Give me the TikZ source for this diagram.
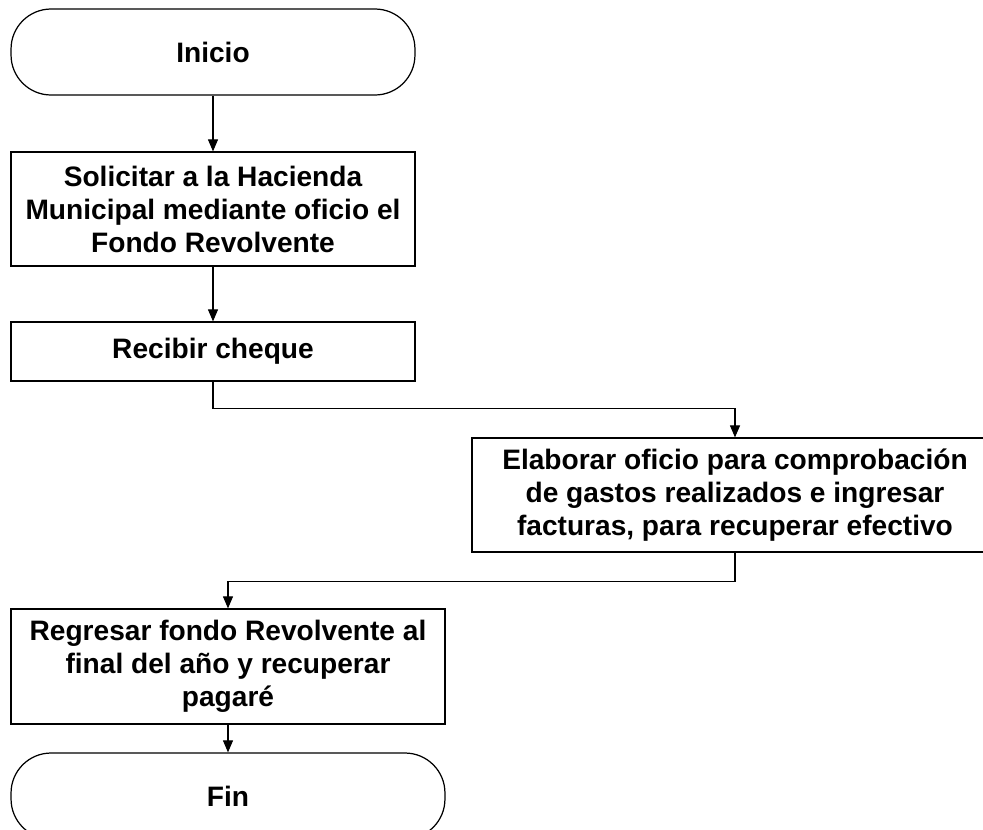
\documentclass[tikz,border=0pt]{standalone}
\usepackage{fontspec}
\setmainfont{Liberation Sans}
\usetikzlibrary{positioning,arrows.meta}

\begin{document}
\begin{tikzpicture}[x=0.02cm,y=-0.02cm,
  terminal/.style={draw,line width=0.7pt,rounded corners=0.8cm,minimum width=8.08cm,minimum height=1.72cm,inner sep=0pt,font=\fontsize{16}{18.8}\selectfont\bfseries},
  process/.style={draw,line width=0.7pt,minimum width=8.08cm,inner sep=0pt,align=center,font=\fontsize{16}{18.8}\selectfont\bfseries},
  flow/.style={-{Triangle[length=0.24cm,width=0.2cm]},line width=0.6pt}]
  \useasboundingbox (0,0) rectangle (983,829);
  \clip (0,0) rectangle (983,829);
  \node[terminal] (inicio) at (213,52) {Inicio};
  \node[process,minimum height=2.28cm] (solicitar) at (213,209) {Solicitar a la Hacienda\\Municipal mediante oficio el\\Fondo Revolvente};
  \node[process,minimum height=1.18cm] (recibir) at (213,351.5) {Recibir cheque};
  \node[process,minimum width=10.52cm,minimum height=2.28cm] (elaborar) at (735,495) {Elaborar oficio para comprobación\\de gastos realizados e ingresar\\facturas, para recuperar efectivo};
  \node[process,minimum width=8.68cm,minimum height=2.3cm] (regresar) at (228,666.5) {Regresar fondo Revolvente al\\final del año y recuperar\\pagaré};
  \node[terminal,minimum width=8.68cm] (fin) at (228,796) {Fin};
  \draw[flow] (inicio) -- (solicitar);
  \draw[flow] (solicitar) -- (recibir);
  \draw[flow] (recibir.south) -- ++(0,27) -| (elaborar.north);
  \draw[flow] (elaborar.south) -- ++(0,29) -| (regresar.north);
  \draw[flow] (regresar) -- (fin);
\end{tikzpicture}
\end{document}
